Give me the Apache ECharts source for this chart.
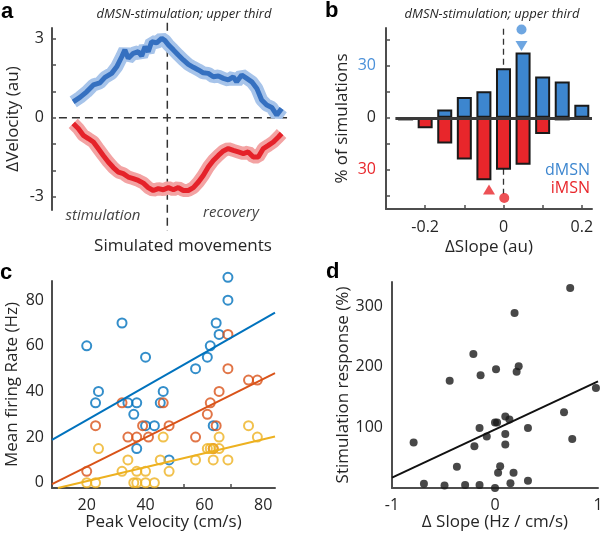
<!DOCTYPE html>
<html><head><meta charset="utf-8">
<script src="https://cdn.jsdelivr.net/npm/echarts@6/dist/echarts.min.js"></script>
<style>html,body{margin:0;padding:0;background:#fff}#c{width:600px;height:534px}</style>
</head><body><div id="c"></div>
<script>
// ---------- Panel a: ΔVelocity over simulated movements ----------
const aDx = [0.6,3.8,7,10.2,13.3,15.7,18.9,21.3,23.7,25.2,26.8,29.2,31.6,33.2,34.8,36.3,37.9,40.3,42.7,44.3,45.9,48.3,50.6,53,55.4,57.8,60.2,62.5,64.9,67.3,69.7,72.1,74.4,76.8,78.4,80.8,83.2,85.6,88,90.3,92.7,95.1,97.5,99.8];
const aDy = [0.60,0.77,0.98,1.24,1.32,1.53,1.68,1.93,2.31,2.57,2.25,2.44,2.50,2.34,2.69,2.50,2.88,2.84,3.01,2.92,2.76,2.57,2.38,2.19,2.02,1.91,1.81,1.70,1.68,1.55,1.58,1.49,1.43,1.55,1.36,1.62,1.49,1.36,1.11,0.67,0.48,0.39,0.10,0.35];
const aIx = [0.6,3,5.4,7.8,10.2,12.5,14.9,17.3,19.7,22.1,24.4,26.8,29.2,31.6,34,36.3,38.7,41.1,43.5,45.9,48.3,50.6,53,55.4,57.8,60.2,62.5,64.9,67.3,69.7,72.1,74.4,76.8,79.2,81.6,83.9,86.3,88.7,91.1,93.5,95.9,98.3,99.8];
const aIy = [-0.22,-0.41,-0.67,-0.79,-0.92,-1.17,-1.43,-1.68,-1.89,-2.06,-2.12,-2.25,-2.31,-2.38,-2.48,-2.65,-2.76,-2.69,-2.73,-2.65,-2.73,-2.65,-2.76,-2.76,-2.65,-2.44,-2.19,-1.87,-1.62,-1.43,-1.26,-1.17,-1.24,-1.30,-1.36,-1.30,-1.49,-1.49,-1.17,-1.05,-0.92,-0.73,-0.60];
const aZeroLine = [[-6.2,0],[102.4,0]];
const aStimEndLine = [[45.4,3.6],[45.4,-4.3]];
const aYLabels = [-3, 0, 3];
const aYTicks = [-3, -2, -1, 0, 1, 2, 3];

// ---------- Panel b: ΔSlope histogram ----------
const bBins = [-0.25,-0.2,-0.15,-0.1,-0.05,0,0.05,0.1,0.15,0.2];
const bDMSN = [0,0,4.8,12,15.3,28.7,37.7,23.9,21,7.5];
const bIMSN = [1.5,6.1,14.9,24.1,36.1,30,27.2,9.4,1.5,0];
const bDMSNMean = [0.046, 51];      // circle
const bDMSNMedian = [0.046, 41.5];  // triangle down
const bIMSNMedian = [-0.037, -41.5];// triangle up
const bIMSNMean = [0.002, -46.3];   // circle
const bYLabels = [-30, 0, 30];
const bYTicks = [-45, -30, -15, 0, 15, 30, 45];
const bXLabels = [-0.2, 0, 0.2];
const bXTicks = [-0.2, -0.1, 0, 0.1, 0.2];

// ---------- Panel c: firing rate vs peak velocity ----------
const cBlueX = [68,68,32,64,65,20,62,40,61,57,24,46,23,34,37,45,36,40,43,63,37,48];
const cBlueY = [90,80,70,70,65,60,60,55,55,50,40,40,35,35,35,35,30,25,25,25,15,10];
const cRedX = [68,68,75,78,65,32,46,62,61,23,39,48,64,34,37,41,57,63,20];
const cRedY = [65,50,45,45,40,35,35,35,30,25,25,25,25,20,20,20,20,15,5];
const cYelX = [75,78,46,65,24,61,62,63,65,34,45,57,63,68,32,37,40,48,20,23,36,37,40,43];
const cYelY = [25,20,20,20,15,15,15,15,15,10,10,10,10,10,5,5,5,5,0,0,0,0,0,0];
const cBlueFit = [[8.2,18.8],[84,74.5]];
const cRedFit = [[8.2,-0.6],[84,48]];
const cYelFit = [[10.2,-2.3],[84,20.3]];
const cXLabels = [20,40,60,80];
const cXTicks = [53,69];
const cYLabels = [0,20,40,60,80];

// ---------- Panel d: stimulation response vs ΔSlope ----------
const dX = [0.73,0.19,-0.21,0.23,0.21,0.01,-0.14,-0.44,0.98,0.67,0.10,0.14,0.0,0.02,-0.15,0.32,-0.08,0.10,0.10,-0.20,-0.79,0.75,-0.37,0.05,0.03,0.18,0.32,0.15,-0.69,-0.49,-0.29,-0.15,0.0];
const dY = [330,289,221,201,192,196,186,177,165,125,118,113,108,108,99,99,85,89,72,69,75,81,35,36,25,25,12,8,7,4,5,5,0];
const dFit = [[-1,17],[1,176]];
const dXLabels = [-1,0,1];
const dYLabels = [100,200,300];

// ---------- styles ----------
const FONT = '"Open Sans", "Noto Sans", sans-serif';
const AX = '#4d4d4d', TXT = '#262626';
const BLUE = '#3d86cf', RED = '#e8262b';
const MB = '#0072BD', MR = '#D95319', MY = '#EDB120';

function zip(xs, ys){ return xs.map((x,i)=>[x, ys[i]]); }
function axisLine(){ return {show:true, onZero:false, lineStyle:{color:AX, width:2}}; }
const lbl = {color:TXT, fontSize:16, fontFamily:FONT};
const nameStyle = {color:TXT, fontSize:17, fontFamily:FONT};
const dashed = {color:'#333', type:[8,5], width:1.5};

const chart = echarts.init(document.getElementById('c'), null, {renderer:'canvas'});
const option = {
  animation:false,
  backgroundColor:'#fff',
  grid:[
    {left:52, top:28, width:238, height:182, outerBoundsMode:'none', containLabel:false},
    {left:386, top:28, width:206, height:181, outerBoundsMode:'none', containLabel:false},
    {left:52, top:281, width:223, height:207, outerBoundsMode:'none', containLabel:false},
    {left:392, top:282, width:206, height:206, outerBoundsMode:'none', containLabel:false}
  ],
  xAxis:[
    {gridIndex:0, type:'value', min:-9.5, max:103.8, show:false},
    {gridIndex:1, type:'value', min:-0.3, max:0.226, axisLine:axisLine(), splitLine:{show:false},
     axisTick:{show:true, inside:true, length:4, lineStyle:{color:AX,width:1.5}, customValues:bXTicks},
     axisLabel:Object.assign({margin:10, customValues:bXLabels, formatter:v=>String(v)}, lbl),
     name:'ΔSlope (au)', nameLocation:'middle', nameGap:30, nameTextStyle:nameStyle},
    {gridIndex:2, type:'value', min:8.2, max:84, axisLine:axisLine(), splitLine:{show:false},
     axisTick:{show:true, inside:true, length:4, lineStyle:{color:AX,width:1.5}, customValues:cXTicks},
     axisLabel:Object.assign({margin:9, customValues:cXLabels}, lbl),
     name:'Peak Velocity (cm/s)', nameLocation:'middle', nameGap:26, nameTextStyle:nameStyle},
    {gridIndex:3, type:'value', min:-1, max:1, axisLine:axisLine(), splitLine:{show:false},
     axisTick:{show:false},
     axisLabel:Object.assign({margin:9, customValues:dXLabels}, lbl),
     name:'Δ Slope (Hz / cm/s)', nameLocation:'middle', nameGap:26, nameTextStyle:nameStyle}
  ],
  yAxis:[
    {gridIndex:0, type:'value', min:-3.5, max:3.4, axisLine:axisLine(), splitLine:{show:false},
     axisTick:{show:true, inside:true, length:4, lineStyle:{color:AX,width:1.5}, customValues:aYTicks},
     axisLabel:Object.assign({margin:8, customValues:aYLabels}, lbl),
     name:'ΔVelocity (au)', nameLocation:'middle', nameGap:30, nameTextStyle:nameStyle},
    {gridIndex:1, type:'value', min:-52.7, max:51.9, axisLine:axisLine(), splitLine:{show:false},
     axisTick:{show:true, inside:true, length:4, lineStyle:{color:AX,width:1.5}, customValues:bYTicks},
     axisLabel:Object.assign({margin:10, customValues:bYLabels,
       formatter:v=> v>0 ? '{bl|'+v+'}' : (v<0 ? '{rd|'+(-v)+'}' : '{k|0}'),
       rich:{bl:{color:'#4a90d9',fontSize:16,fontFamily:FONT}, rd:{color:RED,fontSize:16,fontFamily:FONT}, k:{color:TXT,fontSize:16,fontFamily:FONT}}}, lbl),
     name:'% of simulations', nameLocation:'middle', nameGap:35, nameTextStyle:nameStyle},
    {gridIndex:2, type:'value', min:-2.3, max:88.4, axisLine:axisLine(), splitLine:{show:false},
     axisTick:{show:false},
     axisLabel:Object.assign({margin:8, customValues:cYLabels}, lbl),
     name:'Mean firing Rate (Hz)', nameLocation:'middle', nameGap:31, nameTextStyle:nameStyle},
    {gridIndex:3, type:'value', min:0, max:340, axisLine:axisLine(), splitLine:{show:false},
     axisTick:{show:false},
     axisLabel:Object.assign({margin:9, customValues:dYLabels}, lbl),
     name:'Stimulation response (%)', nameLocation:'middle', nameGap:33, nameTextStyle:nameStyle}
  ],
  series:[
    // ---- a ----
    {type:'line', xAxisIndex:0, yAxisIndex:0, data:aZeroLine, showSymbol:false, clip:false, silent:true, z:1, lineStyle:dashed},
    {type:'line', xAxisIndex:0, yAxisIndex:0, data:aStimEndLine, showSymbol:false, clip:false, silent:true, z:1, lineStyle:dashed},
    {type:'line', xAxisIndex:0, yAxisIndex:0, data:zip(aDx,aDy), showSymbol:false, z:2,
     lineStyle:{color:'#a7c4ea', width:13}},
    {type:'line', xAxisIndex:0, yAxisIndex:0, data:zip(aDx,aDy), showSymbol:false, z:3,
     lineStyle:{color:'#3570c0', width:5}},
    {type:'line', xAxisIndex:0, yAxisIndex:0, data:zip(aIx,aIy), showSymbol:false, z:2,
     lineStyle:{color:'#f3a3a3', width:13}},
    {type:'line', xAxisIndex:0, yAxisIndex:0, data:zip(aIx,aIy), showSymbol:false, z:3,
     lineStyle:{color:'#e5222a', width:5}},
    // ---- b ----
    {type:'line', xAxisIndex:1, yAxisIndex:1, data:[], silent:true, z:1,
     markLine:{symbol:'none', silent:true, label:{show:false}, z:1,
       lineStyle:{color:'#333', type:[6,4], width:1.3},
       data:[[{coord:[0,51.5]},{coord:[0,-44]}]]}},
    {type:'bar', xAxisIndex:1, yAxisIndex:1, barWidth:15, barGap:'-100%', z:2,
     data:zip(bBins, bDMSN.map(v=> v>0 ? v : null)),
     itemStyle:{color:BLUE, borderColor:'#1a1a1a', borderWidth:2}},
    {type:'bar', xAxisIndex:1, yAxisIndex:1, barWidth:15, barGap:'-100%', z:2,
     data:zip(bBins, bIMSN.map(v=> v>0 ? -v : null)),
     itemStyle:{color:RED, borderColor:'#1a1a1a', borderWidth:2}},
    {type:'line', xAxisIndex:1, yAxisIndex:1, data:[], silent:true, z:4,
     markLine:{symbol:'none', silent:true, label:{show:false}, z:4,
       lineStyle:{color:'#3a3a3a', type:'solid', width:3},
       data:[[{coord:[-0.276,0]},{coord:[0.226,0]}]]}},
    {type:'scatter', xAxisIndex:1, yAxisIndex:1, data:[bDMSNMean], symbol:'circle', symbolSize:10, clip:false, itemStyle:{color:'#4a90d9'}},
    {type:'scatter', xAxisIndex:1, yAxisIndex:1, data:[bDMSNMedian], symbol:'triangle', symbolRotate:180, symbolSize:[12,10], clip:false, itemStyle:{color:'#4a90d9'}},
    {type:'scatter', xAxisIndex:1, yAxisIndex:1, data:[bIMSNMedian], symbol:'triangle', symbolSize:[12,10], clip:false, itemStyle:{color:RED}},
    {type:'scatter', xAxisIndex:1, yAxisIndex:1, data:[bIMSNMean], symbol:'circle', symbolSize:10, clip:false, itemStyle:{color:RED}},
    // ---- c ----
    {type:'line', xAxisIndex:2, yAxisIndex:2, data:cBlueFit, showSymbol:false, clip:false, lineStyle:{color:MB, width:2}},
    {type:'line', xAxisIndex:2, yAxisIndex:2, data:cRedFit, showSymbol:false, clip:false, lineStyle:{color:MR, width:2}},
    {type:'line', xAxisIndex:2, yAxisIndex:2, data:cYelFit, showSymbol:false, clip:false, lineStyle:{color:MY, width:2}},
    {type:'scatter', xAxisIndex:2, yAxisIndex:2, data:zip(cBlueX,cBlueY), symbol:'circle', symbolSize:9, clip:false,
     itemStyle:{color:'rgba(0,0,0,0)', borderColor:MB, borderWidth:2}},
    {type:'scatter', xAxisIndex:2, yAxisIndex:2, data:zip(cRedX,cRedY), symbol:'circle', symbolSize:9, clip:false,
     itemStyle:{color:'rgba(0,0,0,0)', borderColor:MR, borderWidth:2}},
    {type:'scatter', xAxisIndex:2, yAxisIndex:2, data:zip(cYelX,cYelY), symbol:'circle', symbolSize:9, clip:false,
     itemStyle:{color:'rgba(0,0,0,0)', borderColor:MY, borderWidth:2}},
    // ---- d ----
    {type:'line', xAxisIndex:3, yAxisIndex:3, data:dFit, showSymbol:false, clip:false, lineStyle:{color:'#111', width:2}},
    {type:'scatter', xAxisIndex:3, yAxisIndex:3, data:zip(dX,dY), symbol:'circle', symbolSize:8, clip:false,
     itemStyle:{color:'#1a1a1a'}}
  ],
  graphic:[
    {type:'text', x:1, y:1, style:{text:'a', font:'bold 22px "Liberation Sans", Arial, sans-serif', fill:'#000'}},
    {type:'text', x:325, y:0, style:{text:'b', font:'bold 22px "Liberation Sans", Arial, sans-serif', fill:'#000'}},
    {type:'text', x:0, y:262, style:{text:'c', font:'bold 22px "Liberation Sans", Arial, sans-serif', fill:'#000'}},
    {type:'text', x:326, y:261, style:{text:'d', font:'bold 22px "Liberation Sans", Arial, sans-serif', fill:'#000'}},
    {type:'text', x:184, y:14, style:{text:'dMSN-stimulation; upper third', font:'italic 13px '+FONT, fill:TXT, align:'center', verticalAlign:'middle'}},
    {type:'text', x:492, y:14, style:{text:'dMSN-stimulation; upper third', font:'italic 13px '+FONT, fill:TXT, align:'center', verticalAlign:'middle'}},
    {type:'text', x:103, y:216, style:{text:'stimulation', font:'italic 15px '+FONT, fill:'#444', align:'center', verticalAlign:'middle'}},
    {type:'text', x:231, y:213, style:{text:'recovery', font:'italic 15px '+FONT, fill:'#444', align:'center', verticalAlign:'middle'}},
    {type:'text', x:183, y:246, style:{text:'Simulated movements', font:'17px '+FONT, fill:TXT, align:'center', verticalAlign:'middle'}},
    {type:'text', x:590, y:170, style:{text:'dMSN', font:'16px '+FONT, fill:BLUE, align:'right', verticalAlign:'middle'}},
    {type:'text', x:590, y:188, style:{text:'iMSN', font:'16px '+FONT, fill:RED, align:'right', verticalAlign:'middle'}}
  ]
};
chart.setOption(option);
</script></body></html>
